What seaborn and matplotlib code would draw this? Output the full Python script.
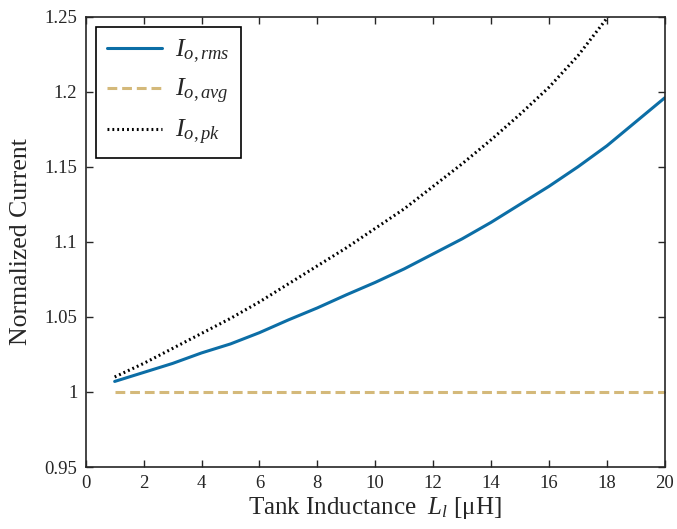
import matplotlib
matplotlib.use("Agg")
import matplotlib.pyplot as plt
import seaborn as sns
import numpy as np
import pandas as pd

# Values
inductance = list(range(1, 21))
i_rms = [1.007, 1.013, 1.019, 1.026, 1.032, 1.0395, 1.048, 1.056, 1.0647, 1.073,
         1.082, 1.092, 1.102, 1.113, 1.125, 1.137, 1.150, 1.164, 1.180, 1.196]
i_avg = [1.0] * 20
i_pk = [1.010, 1.019, 1.029, 1.039, 1.049, 1.060, 1.072, 1.084, 1.096, 1.109,
        1.122, 1.137, 1.152, 1.168, 1.185, 1.203, 1.224, 1.249, 1.273, 1.299]
x_ticks = list(range(0, 21, 2))
y_ticks = [0.95, 1.0, 1.05, 1.1, 1.15, 1.2, 1.25]
y_tick_labels = ["0.95", "1", "1.05", "1.1", "1.15", "1.2", "1.25"]

sns.set_style("ticks")
plt.rcParams["font.family"] = ["Liberation Serif", "DejaVu Serif"]
plt.rcParams["mathtext.fontset"] = "custom"
plt.rcParams["mathtext.rm"] = "Liberation Serif"
plt.rcParams["mathtext.it"] = "Liberation Serif:italic"

df = pd.DataFrame({"L": inductance, "rms": i_rms, "avg": i_avg, "pk": i_pk})

fig = plt.figure(figsize=(6.77, 5.29), dpi=100)
ax = fig.add_axes([0.1266, 0.1172, 0.8554, 0.8512])

sns.lineplot(data=df, x="L", y="rms", ax=ax, color="#0c6ea6", lw=2.2,
             label=r"$I_{o,rms}$")
sns.lineplot(data=df, x="L", y="avg", ax=ax, color="#d4b97a", lw=2.2,
             linestyle=(0, (3.2, 1.6)), label=r"$I_{o,avg}$")
sns.lineplot(data=df, x="L", y="pk", ax=ax, color="black", lw=2.2,
             linestyle=(0, (0.6, 1.0)), label=r"$I_{o,pk}$")

ax.set_xlim(0, 20)
ax.set_ylim(0.95, 1.25)
ax.set_xticks(x_ticks)
ax.set_yticks(y_ticks)
ax.set_yticklabels(y_tick_labels)
ax.tick_params(direction="in", top=True, right=True, labelsize=13.5, length=5,
               width=1, pad=6)
for s in ax.spines.values():
    s.set_linewidth(1.2)

ax.set_xlabel(r"Tank Inductance  $L_l$ [μH]", fontsize=18, labelpad=2)
ax.set_ylabel("Normalized Current", fontsize=18.5, labelpad=9)

leg = ax.legend(loc="upper left", fontsize=19, handlelength=2.1,
                handletextpad=0.5, fancybox=False, framealpha=1,
                edgecolor="black", borderpad=0.4, labelspacing=0.45,
                borderaxespad=0.4)
leg.get_frame().set_linewidth(1.2)

fig.savefig("out.png", dpi=100)
